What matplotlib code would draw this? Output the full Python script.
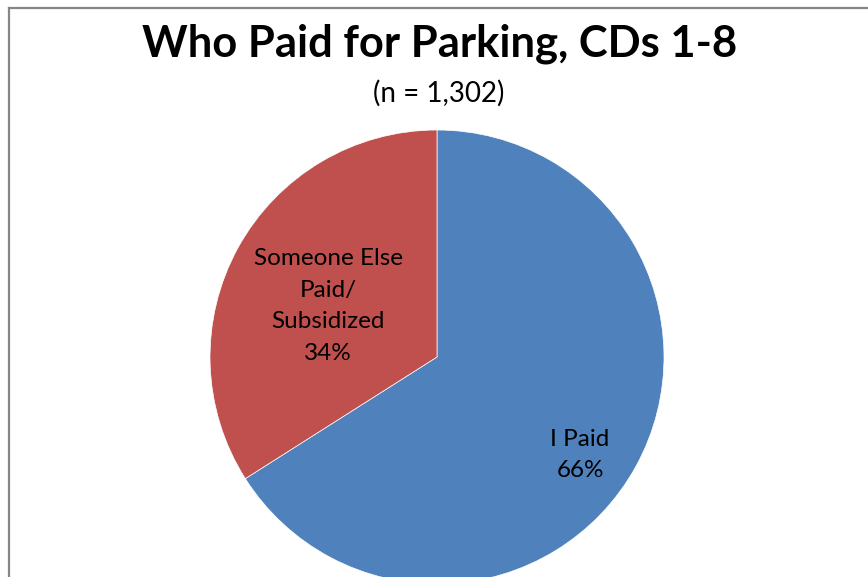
import matplotlib
matplotlib.use("Agg")
import matplotlib.pyplot as plt
from matplotlib.lines import Line2D

plt.rcParams['font.family'] = ['Lato', 'DejaVu Sans']

title = "Who Paid for Parking, CDs 1-8"
subtitle = "(n = 1,302)"
categories = ["I Paid", "Someone Else\nPaid/\nSubsidized"]
shares = [66, 34]
colors = ["#4F81BD", "#C0504D"]

W, H = 868, 577
fig = plt.figure(figsize=(W / 100, H / 100), dpi=100)
ax = fig.add_axes([0, 0, 1, 1])

cx, cy, r = 437, H - 357, 227
wedges, _ = ax.pie(shares, colors=colors, startangle=90, counterclock=False,
                   center=(cx, cy), radius=r,
                   wedgeprops=dict(linewidth=0.5, edgecolor="white"))
ax.set_xlim(0, W)
ax.set_ylim(0, H)
ax.set_aspect("equal")
ax.axis("off")

label_pos = [(580, H - 455), (328, H - 306)]
for name, v, (x, y) in zip(categories, shares, label_pos):
    ax.text(x, y, f"{name}\n{v}%", ha="center", va="center",
            fontsize=17.5, linespacing=1.62, color="black")

ax.text(440, H - 44, title, ha="center", va="center",
        fontsize=31.3, fontweight="bold")
ax.text(439, H - 93, subtitle, ha="center", va="center", fontsize=20)

# chart area border (left and top edges visible)
frame_col = "#868686"
ax.add_line(Line2D([8.5, 8.5], [0, H - 7.5], color=frame_col, lw=1.6))
ax.add_line(Line2D([8.5, W], [H - 7.5, H - 7.5], color=frame_col, lw=1.6))

fig.savefig("out.png", dpi=100)
